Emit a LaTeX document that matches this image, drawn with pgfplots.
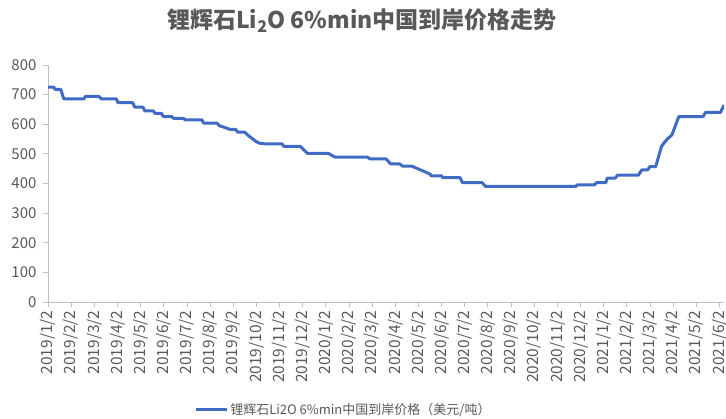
\documentclass[border=0pt]{standalone}
\usepackage{fontspec}
\setmainfont{Noto Sans CJK SC}
\usepackage{pgfplots}
\pgfplotsset{compat=1.18}
\definecolor{lineblue}{HTML}{3F6BC4}
\definecolor{txtgray}{HTML}{595959}
\definecolor{axgray}{HTML}{BFBFBF}
\pgfplotstableread{
m v
0 725
0.25 725
0.3 718
0.55 718
0.68 686
1.55 686
1.62 694
2.2 694
2.3 686
2.95 686
3.02 673
3.65 673
3.75 658
4.1 658
4.18 645
4.55 645
4.62 637
4.9 637
4.98 626
5.35 626
5.42 620
5.85 620
5.92 615
6.65 615
6.72 604
7.3 604
7.4 595
7.6 590
7.85 583
8.1 583
8.2 573
8.5 573
8.65 562
9.0 541
9.14 536
9.35 534
10.1 534
10.2 525
10.9 525
11.2 502
12.1 502
12.4 489
13.8 489
13.9 483
14.6 483
14.8 466
15.2 466
15.3 459
15.7 459
16.5 432
16.55 426
17.0 426
17.05 420
17.8 420
17.9 403
18.75 403
18.9 390
22.8 390
22.85 395
23.6 395
23.7 403
24.1 403
24.15 418
24.5 418
24.6 428
25.5 428
25.65 446
25.9 446
26.0 457
26.25 457
26.5 525
26.6 536
26.75 550
26.95 564
27.25 626
28.3 626
28.4 640
29.05 640
29.2 665
}\pricedata
\begin{document}
\begin{tikzpicture}
\useasboundingbox (0,0) rectangle (726pt,419pt);
\node[font=\fontsize{23}{27}\selectfont\bfseries, text=txtgray] at (362pt,398pt) {锂辉石Li\textsubscript{2}O 6\%min中国到岸价格走势};
\begin{axis}[
  at={(48pt,117pt)}, anchor=origin,
  scale only axis, width=676pt, height=237pt,
  xmin=0, xmax=29.2, ymin=0, ymax=800,
  axis lines=left,
  axis line style={-, draw=axgray, line width=0.8pt},
  xtick={0,...,29},
  xticklabels={2019/1/2,2019/2/2,2019/3/2,2019/4/2,2019/5/2,2019/6/2,2019/7/2,2019/8/2,2019/9/2,2019/10/2,2019/11/2,2019/12/2,2020/1/2,2020/2/2,2020/3/2,2020/4/2,2020/5/2,2020/6/2,2020/7/2,2020/8/2,2020/9/2,2020/10/2,2020/11/2,2020/12/2,2021/1/2,2021/2/2,2021/3/2,2021/4/2,2021/5/2,2021/6/2},
  ytick={0,100,...,800},
  tick align=outside,
  major tick length=5pt,
  tick style={draw=axgray, line width=0.8pt},
  x tick label style={rotate=90, anchor=east, font=\fontsize{15.5}{17}\selectfont, text=txtgray},
  y tick label style={font=\fontsize{15}{17}\selectfont, text=txtgray, xshift=-3pt},
  /pgf/number format/assume math mode=true,
  legend style={at={(0.437,-0.455)}, anchor=center, draw=none, fill=none, font=\fontsize{13}{15}\selectfont, text=txtgray},
  legend image code/.code={\draw[#1] (0pt,0pt) -- (31pt,0pt);},
  clip=true,
]
\addplot[lineblue, line width=3pt, line join=round] table[x=m, y=v] {\pricedata};
\addlegendentry{锂辉石Li2O 6\%min中国到岸价格（美元/吨）}
\end{axis}
\end{tikzpicture}
\end{document}
